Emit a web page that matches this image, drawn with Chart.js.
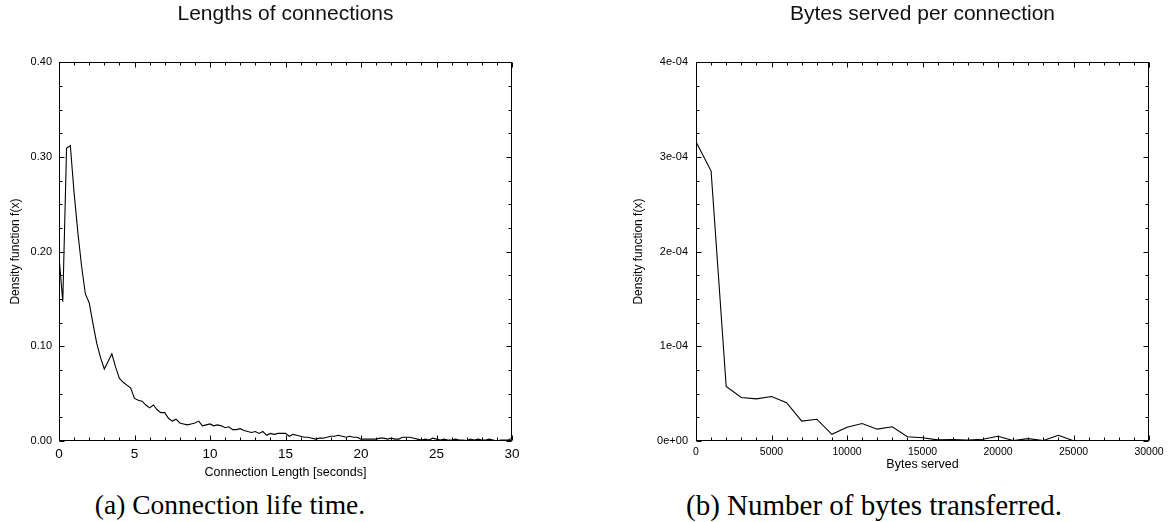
<!DOCTYPE html>
<html lang="en">
<head>
<meta charset="UTF-8">
<title>Connection statistics</title>
<script src="https://cdn.jsdelivr.net/npm/chart.js"></script>
<style>
    body {
        margin: 0;
        background: #fff;
        width: 1169px;
        height: 522px;
        position: relative;
        overflow: hidden;
    }
    .panel {
        position: absolute;
        top: 0;
        height: 480px;
    }
    #leftPanel { left: 0; width: 584px; }
    #rightPanel { left: 620px; width: 605px; }
    .caption {
        position: absolute;
        top: 491px;
        line-height: 28px;
        font-family: 'Liberation Serif', serif;
        font-size: 28px;
        color: #000;
        white-space: nowrap;
        transform: translateX(-50%);
    }
</style>
</head>
<body>
<div class="panel" id="leftPanel"><canvas id="lifeChart"></canvas></div>
<div class="panel" id="rightPanel"><canvas id="bytesChart"></canvas></div>
<div class="caption" style="left:230px;font-size:27.5px">(a) Connection life time.</div>
<div class="caption" style="left:874px;font-size:29px">(b) Number of bytes transferred.</div>

<script>
// Connection length density (seconds, 0.25 s bins)
const lifeX = [];
for (let i = 0; i <= 120; i++) lifeX.push(i / 4);
const lifeY = [
    0.195, 0.147, 0.309, 0.312, 0.262, 0.220, 0.184, 0.155,
    0.146, 0.124, 0.103, 0.088, 0.076, 0.084, 0.092, 0.078,
    0.066, 0.062, 0.059, 0.056, 0.045, 0.043, 0.042, 0.038,
    0.035, 0.038, 0.033, 0.030, 0.030, 0.024, 0.021, 0.023,
    0.019, 0.018, 0.017, 0.018, 0.019, 0.021, 0.016, 0.017,
    0.018, 0.016, 0.017, 0.016, 0.014, 0.015, 0.012, 0.012,
    0.013, 0.011, 0.010, 0.009, 0.010, 0.008, 0.010, 0.006,
    0.008, 0.007, 0.008, 0.008, 0.008, 0.005, 0.007, 0.006,
    0.005, 0.004, 0.004, 0.003, 0.002, 0.003, 0.003, 0.004,
    0.005, 0.005, 0.006, 0.005, 0.004, 0.005, 0.004, 0.004,
    0.002, 0.002, 0.002, 0.002, 0.002, 0.003, 0.003, 0.002,
    0.003, 0.002, 0.002, 0.004, 0.004, 0.004, 0.003, 0.002,
    0.001, 0.002, 0.001, 0.003, 0.002, 0.001, 0.002, 0.001,
    0.001, 0.002, 0.001, 0.001, 0.0004, 0.002, 0.001, 0.002,
    0.001, 0.001, 0.002, 0.001, 0.0, 0.001, 0.001, 0.001,
    0.003
];

// Bytes served density (1000 byte bins)
const bytesX = [];
for (let i = 0; i <= 30; i++) bytesX.push(i * 1000);
const bytesY = [
    3.16e-4, 2.85e-4, 5.75e-5, 4.6e-5, 4.45e-5, 4.7e-5, 4.05e-5, 2.1e-5,
    2.3e-5, 7e-6, 1.45e-5, 1.85e-5, 1.25e-5, 1.5e-5, 4.5e-6, 3.5e-6,
    1.2e-6, 1.5e-6, 1e-6, 1.8e-6, 5e-6, 5e-7, 2.5e-6, 5e-7,
    6e-6, 2e-7, 2e-7, 1e-7, 1e-7, 1e-7, 0
];

Chart.defaults.font.family = "'Liberation Sans', Arial, sans-serif";
Chart.defaults.color = '#000';

// gnuplot style frame with inward major/minor ticks on all four sides
const boxTicks = {
    id: 'boxTicks',
    afterDraw(chart, args, opts) {
        const {ctx, chartArea: a, scales: {x, y}} = chart;
        const L = Math.round(a.left) + 0.5, R = Math.round(a.right) - 0.5;
        const T = Math.round(a.top) + 0.5, B = Math.round(a.bottom) - 0.5;
        ctx.save();
        ctx.strokeStyle = '#000';
        ctx.lineWidth = 1;
        ctx.beginPath();
        const n = Math.round((x.max - x.min) / opts.xMinor);
        for (let i = 0; i <= n; i++) {
            const v = x.min + i * opts.xMinor;
            const r = v / opts.xMajor;
            const len = Math.abs(r - Math.round(r)) < 1e-6 ? 5 : 3;
            const px = Math.round(x.getPixelForValue(v)) + 0.5;
            ctx.moveTo(px, B); ctx.lineTo(px, B - len);
            ctx.moveTo(px, T); ctx.lineTo(px, T + len);
        }
        const m = Math.round((y.max - y.min) / opts.yMinor);
        for (let i = 0; i <= m; i++) {
            const v = y.min + i * opts.yMinor;
            const r = v / opts.yMajor;
            const len = Math.abs(r - Math.round(r)) < 1e-6 ? 5 : 3;
            const py = Math.round(y.getPixelForValue(v)) + 0.5;
            ctx.moveTo(L, py); ctx.lineTo(L + len, py);
            ctx.moveTo(R, py); ctx.lineTo(R - len, py);
        }
        ctx.stroke();
        ctx.strokeRect(L, T, R - L, B - T);
        ctx.restore();
    }
};

const makeChart = (id, cfg) => {
    const ctx = document.getElementById(id).getContext('2d');
    return new Chart(ctx, {
        type: 'line',
        data: {
            datasets: [{
                data: cfg.xs.map((v, i) => ({x: v, y: cfg.ys[i]})),
                borderColor: '#000',
                borderWidth: 1.1,
                pointRadius: 0,
                tension: 0,
                fill: false
            }]
        },
        plugins: [boxTicks],
        options: {
            responsive: true,
            maintainAspectRatio: false,
            animation: false,
            layout: { padding: { left: 0, right: cfg.padRight, top: 0, bottom: 0 } },
            plugins: {
                legend: { display: false },
                tooltip: { enabled: false },
                title: {
                    display: true,
                    text: cfg.title,
                    color: '#111',
                    font: { size: 21, weight: 'normal' },
                    padding: { top: 2, bottom: 35 }
                },
                boxTicks: cfg.ticks
            },
            scales: {
                x: {
                    type: 'linear',
                    min: cfg.xMin, max: cfg.xMax,
                    grid: { display: false, drawTicks: false },
                    border: { display: false },
                    afterFit: (s) => { s.height = 39; },
                    ticks: {
                        stepSize: cfg.ticks.xMajor,
                        autoSkip: false,
                        maxRotation: 0,
                        padding: 5,
                        font: { size: cfg.xTickSize },
                        callback: (v) => String(v)
                    },
                    title: {
                        display: true,
                        text: cfg.xTitle,
                        font: { size: 12.5 },
                        padding: { top: 0, bottom: cfg.xTitlePad }
                    }
                },
                y: {
                    type: 'linear',
                    min: cfg.yMin, max: cfg.yMax,
                    grid: { display: false, drawTicks: false },
                    border: { display: false },
                    afterFit: (s) => { s.width = cfg.yWidth; },
                    ticks: {
                        stepSize: cfg.ticks.yMajor,
                        padding: cfg.yTickPad,
                        font: { size: 11 },
                        callback: cfg.yFormat
                    },
                    title: {
                        display: true,
                        text: 'Density function f(x)',
                        font: { size: 12 },
                        padding: { top: cfg.yTitlePad, bottom: 0 }
                    }
                },
                // empty right box, same width as the left axis, keeps the title centred over the plot
                yPad: {
                    type: 'linear',
                    position: 'right',
                    grid: { display: false, drawTicks: false },
                    border: { display: false },
                    ticks: { display: false },
                    afterFit: (s) => { s.width = cfg.yWidth; }
                }
            }
        }
    });
};

makeChart('lifeChart', {
    xs: lifeX, ys: lifeY,
    title: 'Lengths of connections',
    xTitle: 'Connection Length [seconds]',
    xMin: 0, xMax: 30, yMin: 0, yMax: 0.4,
    ticks: { xMajor: 5, xMinor: 1, yMajor: 0.1, yMinor: 0.025 },
    xTickSize: 13.5, xTitlePad: 0,
    yWidth: 59, yTickPad: 7, yTitlePad: 8,
    padRight: 13,
    yFormat: (v) => v.toFixed(2)
});

makeChart('bytesChart', {
    xs: bytesX, ys: bytesY,
    title: 'Bytes served per connection',
    xTitle: 'Bytes served',
    xMin: 0, xMax: 30000, yMin: 0, yMax: 4e-4,
    ticks: { xMajor: 5000, xMinor: 1000, yMajor: 1e-4, yMinor: 2.5e-5 },
    xTickSize: 10.5, xTitlePad: 8,
    yWidth: 76, yTickPad: 8, yTitlePad: 11,
    padRight: 0,
    yFormat: (v) => { const k = Math.round(v * 1e4); return k === 0 ? '0e+00' : k + 'e-04'; }
});
</script>
</body>
</html>
